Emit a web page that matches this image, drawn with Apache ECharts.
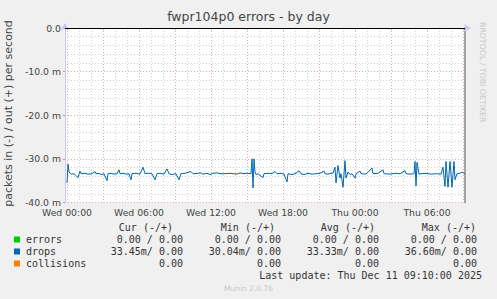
<!DOCTYPE html>
<html><head><meta charset="utf-8">
<script src="https://cdn.jsdelivr.net/npm/echarts@6/dist/echarts.min.js"></script>
<style>html,body{margin:0;padding:0;background:#f0f0f0}#c{width:497px;height:299px}</style>
</head><body><div id="c"></div>
<script>
// ---- data ----
const chartTitle = 'fwpr104p0 errors - by day';
const yAxisName = 'packets in (-) / out (+) per second';
const yTicks = [0, -10, -20, -30, -40];
const yTickLabels = ['0.0', '-10.0 m', '-20.0 m', '-30.0 m', '-40.0 m'];
const xTickLabels = ['Wed 00:00', 'Wed 06:00', 'Wed 12:00', 'Wed 18:00', 'Thu 00:00', 'Thu 06:00'];
const times = [
 'Wed 00:00','Wed 00:05','Wed 00:10','Wed 00:20','Wed 00:30','Wed 00:40','Wed 00:55','Wed 01:00','Wed 01:05','Wed 01:10',
 'Wed 01:30','Wed 01:45','Wed 02:05','Wed 02:20','Wed 02:25','Wed 02:40','Wed 02:50','Wed 03:05','Wed 03:20','Wed 03:25',
 'Wed 03:40','Wed 03:55','Wed 04:10','Wed 04:20','Wed 04:25','Wed 04:40','Wed 04:55','Wed 05:10','Wed 05:20','Wed 05:25',
 'Wed 05:45','Wed 06:05','Wed 06:20','Wed 06:30','Wed 06:45','Wed 07:05','Wed 07:20','Wed 07:30','Wed 07:45','Wed 08:05',
 'Wed 08:20','Wed 08:30','Wed 08:45','Wed 09:05','Wed 09:20','Wed 09:30','Wed 09:50','Wed 10:20','Wed 10:30','Wed 10:55',
 'Wed 11:10','Wed 11:20','Wed 11:40','Wed 11:55','Wed 12:10','Wed 12:30','Wed 12:45','Wed 13:10','Wed 13:35','Wed 14:10',
 'Wed 14:25','Wed 14:40','Wed 15:05','Wed 15:20','Wed 15:25','Wed 15:30','Wed 15:35','Wed 15:40','Wed 15:45','Wed 15:55',
 'Wed 16:20','Wed 16:25','Wed 16:45','Wed 17:05','Wed 17:20','Wed 17:30','Wed 17:50','Wed 18:05','Wed 18:20','Wed 18:25',
 'Wed 18:45','Wed 19:05','Wed 19:20','Wed 19:30','Wed 19:45','Wed 20:05','Wed 20:25','Wed 20:45','Wed 21:05','Wed 21:25',
 'Wed 21:30','Wed 21:45','Wed 22:00','Wed 22:10','Wed 22:20','Wed 22:25','Wed 22:35','Wed 22:45','Wed 22:50','Wed 23:00',
 'Wed 23:10','Wed 23:15','Wed 23:25','Wed 23:35','Wed 23:45','Thu 00:00','Thu 00:05','Thu 00:25','Thu 00:30','Thu 00:55',
 'Thu 01:25','Thu 01:30','Thu 01:55','Thu 02:20','Thu 02:25','Thu 02:55','Thu 03:20','Thu 03:45','Thu 04:10','Thu 04:15',
 'Thu 04:35','Thu 04:55','Thu 05:00','Thu 05:05','Thu 05:10','Thu 05:20','Thu 05:30','Thu 05:55','Thu 06:20','Thu 06:45',
 'Thu 07:10','Thu 07:20','Thu 07:30','Thu 07:35','Thu 07:45','Thu 07:55','Thu 08:05','Thu 08:15','Thu 08:20','Thu 08:30',
 'Thu 08:45','Thu 08:55','Thu 09:10'
];
const dropsIn = [
 -35.5,-31.2,-33.0,-33.5,-33.4,-33.6,-34.3,-33.5,-32.8,-33.4,
 -33.3,-33.5,-33.4,-32.9,-33.4,-33.3,-33.6,-33.4,-35.0,-33.4,
 -33.3,-33.5,-33.4,-32.5,-33.4,-33.3,-33.5,-33.4,-34.8,-33.4,
 -33.3,-33.5,-31.9,-33.4,-33.3,-33.4,-34.8,-33.4,-33.3,-33.5,
 -32.3,-33.4,-33.6,-33.4,-34.8,-33.4,-33.3,-32.9,-33.4,-33.3,
 -33.2,-33.5,-33.3,-33.6,-33.3,-33.2,-33.4,-33.4,-33.3,-33.5,
 -33.2,-33.4,-33.3,-33.4,-30.0,-36.7,-30.0,-33.0,-33.6,-33.4,
 -34.3,-33.4,-33.3,-33.4,-32.9,-33.4,-33.3,-33.5,-35.3,-33.4,
 -33.6,-33.3,-32.7,-33.4,-33.6,-33.3,-33.5,-33.4,-33.3,-32.8,
 -33.4,-33.5,-33.3,-33.3,-31.9,-35.5,-31.5,-34.4,-33.4,-36.5,
 -30.4,-34.4,-33.0,-33.6,-33.4,-34.4,-33.4,-32.8,-33.4,-33.5,
 -32.1,-33.4,-33.3,-32.5,-33.4,-33.5,-33.3,-33.4,-32.7,-33.4,
 -33.5,-33.4,-30.6,-36.2,-30.8,-33.5,-33.4,-33.3,-33.5,-33.4,
 -33.5,-31.9,-36.3,-30.6,-36.5,-30.6,-36.5,-30.6,-34.8,-33.4,
 -33.3,-33.0,-33.45
];
const legendNames = ['errors', 'drops', 'collisions'];
const legendColors = ['#00cc00', '#0066b3', '#ff8000'];
const legendHeaders = ['Cur (-/+)', 'Min (-/+)', 'Avg (-/+)', 'Max (-/+)'];
const curVals = ['0.00 / 0.00', '33.45m/ 0.00', '0.00'];
const minVals = ['0.00 / 0.00', '30.04m/ 0.00', '0.00'];
const avgVals = ['0.00 / 0.00', '33.33m/ 0.00', '0.00'];
const maxVals = ['0.00 / 0.00', '36.60m/ 0.00', '0.00'];
const lastUpdate = 'Last update: Thu Dec 11 09:10:00 2025';
const footer = 'Munin 2.0.76';
const sideText = 'RRDTOOL / TOBI OETIKER';

// ---- category slots (5-minute steps, Tue 23:50 .. Thu 09:10) ----
const slots = [];
for (let i = 0; i <= 400; i++) {
  const m = i * 5 - 10 + 24 * 60; // minutes from Tue 00:00
  const day = ['Tue', 'Wed', 'Thu'][Math.floor(m / 1440)];
  const mm = m % 1440;
  slots.push(day + ' ' + String(Math.floor(mm / 60)).padStart(2, '0') + ':' + String(mm % 60).padStart(2, '0'));
}
const isMajor = (i) => (i - 2) % 36 === 0;
const isHour = (i) => (i - 2) % 12 === 0 && !isMajor(i);

const chart = echarts.init(document.getElementById('c'), null, {renderer: 'svg'});
const mono = 'DejaVu Sans Mono';
const g = [];
g.push({type: 'text', left: 'center', top: 10, style: {text: chartTitle, font: '12.5px "DejaVu Sans"', fill: '#444'}});
g.push({type: 'text', x: 3, y: 113.5, rotation: Math.PI / 2, style: {text: yAxisName, font: '11px "DejaVu Sans"', fill: '#444', align: 'center', verticalAlign: 'top'}});
g.push({type: 'text', x: 486, y: 22, rotation: -Math.PI / 2, style: {text: sideText, font: '7.8px "DejaVu Sans"', fill: '#c8c8c8', align: 'left', verticalAlign: 'top'}});
const headerRight = [173, 275, 375, 476];
const colRight = [183, 281, 379, 477];
legendHeaders.forEach((h, k) => g.push({type: 'text', x: headerRight[k], y: 227, style: {text: h, font: '10px ' + mono, fill: '#333', align: 'right', verticalAlign: 'middle'}}));
const cols = [curVals, minVals, avgVals, maxVals];
legendNames.forEach((n, r) => {
  const y = 239.5 + r * 12;
  g.push({type: 'rect', shape: {x: 14, y: y - 3, width: 6, height: 6}, style: {fill: legendColors[r]}});
  g.push({type: 'text', x: 26, y: y, style: {text: n, font: '10px ' + mono, fill: '#333', verticalAlign: 'middle'}});
  cols.forEach((c, k) => g.push({type: 'text', x: colRight[k], y: y, style: {text: c[r], font: '10px ' + mono, fill: '#333', align: 'right', verticalAlign: 'middle'}}));
});
g.push({type: 'text', x: 482, y: 275.5, style: {text: lastUpdate, font: '10px ' + mono, fill: '#333', align: 'right', verticalAlign: 'middle'}});
g.push({type: 'text', x: 248.5, y: 288.5, style: {text: footer, font: '7.5px "DejaVu Sans"', fill: '#c8c8c8', align: 'center', verticalAlign: 'middle'}});

chart.setOption({
  animation: false,
  backgroundColor: '#f0f0f0',
  grid: {left: 65, right: 32, top: 28, bottom: 96.5, show: true, backgroundColor: '#ffffff', borderWidth: 0},
  xAxis: [{
    type: 'category', data: slots, boundaryGap: false,
    axisLine: {lineStyle: {color: '#c8c8f0', width: 1}, symbol: ['none', 'arrow'], symbolSize: [6, 7], symbolOffset: [0, 6]},
    axisTick: {interval: (i) => isMajor(i), length: 2, lineStyle: {color: '#e08888'}},
    axisLabel: {interval: (i) => (i - 2) % 72 === 0, color: '#444', fontFamily: 'DejaVu Sans', fontSize: 9.3, margin: 5},
    splitLine: {show: true, interval: (i) => isMajor(i), lineStyle: {color: '#e8a8a8', type: [1, 2], width: 1}}
  }, {
    type: 'category', data: slots, boundaryGap: false, position: 'bottom',
    axisLine: {show: false}, axisTick: {show: false}, axisLabel: {show: false},
    splitLine: {show: true, interval: (i) => isHour(i), lineStyle: {color: '#d0d0d0', type: [1, 2], width: 1}}
  }],
  yAxis: [{
    type: 'value', min: -40, max: 0, interval: 10,
    axisLine: {show: true, lineStyle: {color: '#c8c8f0'}, symbol: ['none', 'arrow'], symbolSize: [6, 7], symbolOffset: [0, 5]},
    axisTick: {show: true, length: 2, lineStyle: {color: '#e08888'}},
    axisLabel: {color: '#444', fontFamily: 'DejaVu Sans', fontSize: 9.3, margin: 4,
      formatter: (v) => yTickLabels[yTicks.indexOf(v)]},
    splitLine: {lineStyle: {color: '#e8a8a8', type: [1, 2]}},
    minorTick: {show: false, splitNumber: 5},
    minorSplitLine: {show: true, lineStyle: {color: '#d0d0d0', type: [1, 2]}}
  }, {
    type: 'value', min: -40, max: 0, position: 'right',
    axisLine: {show: true, lineStyle: {color: '#888', width: 1.5}},
    axisTick: {show: false}, axisLabel: {show: false}, splitLine: {show: false}
  }],
  series: [{
    name: 'drops', type: 'line', xAxisIndex: 0, yAxisIndex: 0,
    data: times.map((t, i) => [t, dropsIn[i]]),
    showSymbol: false, lineStyle: {color: legendColors[1], width: 1}, itemStyle: {color: legendColors[1]},
    markLine: {silent: true, symbol: 'none', label: {show: false}, lineStyle: {color: '#000', type: 'solid', width: 1}, data: [{yAxis: 0}]}
  }],
  graphic: g
});
</script></body></html>
